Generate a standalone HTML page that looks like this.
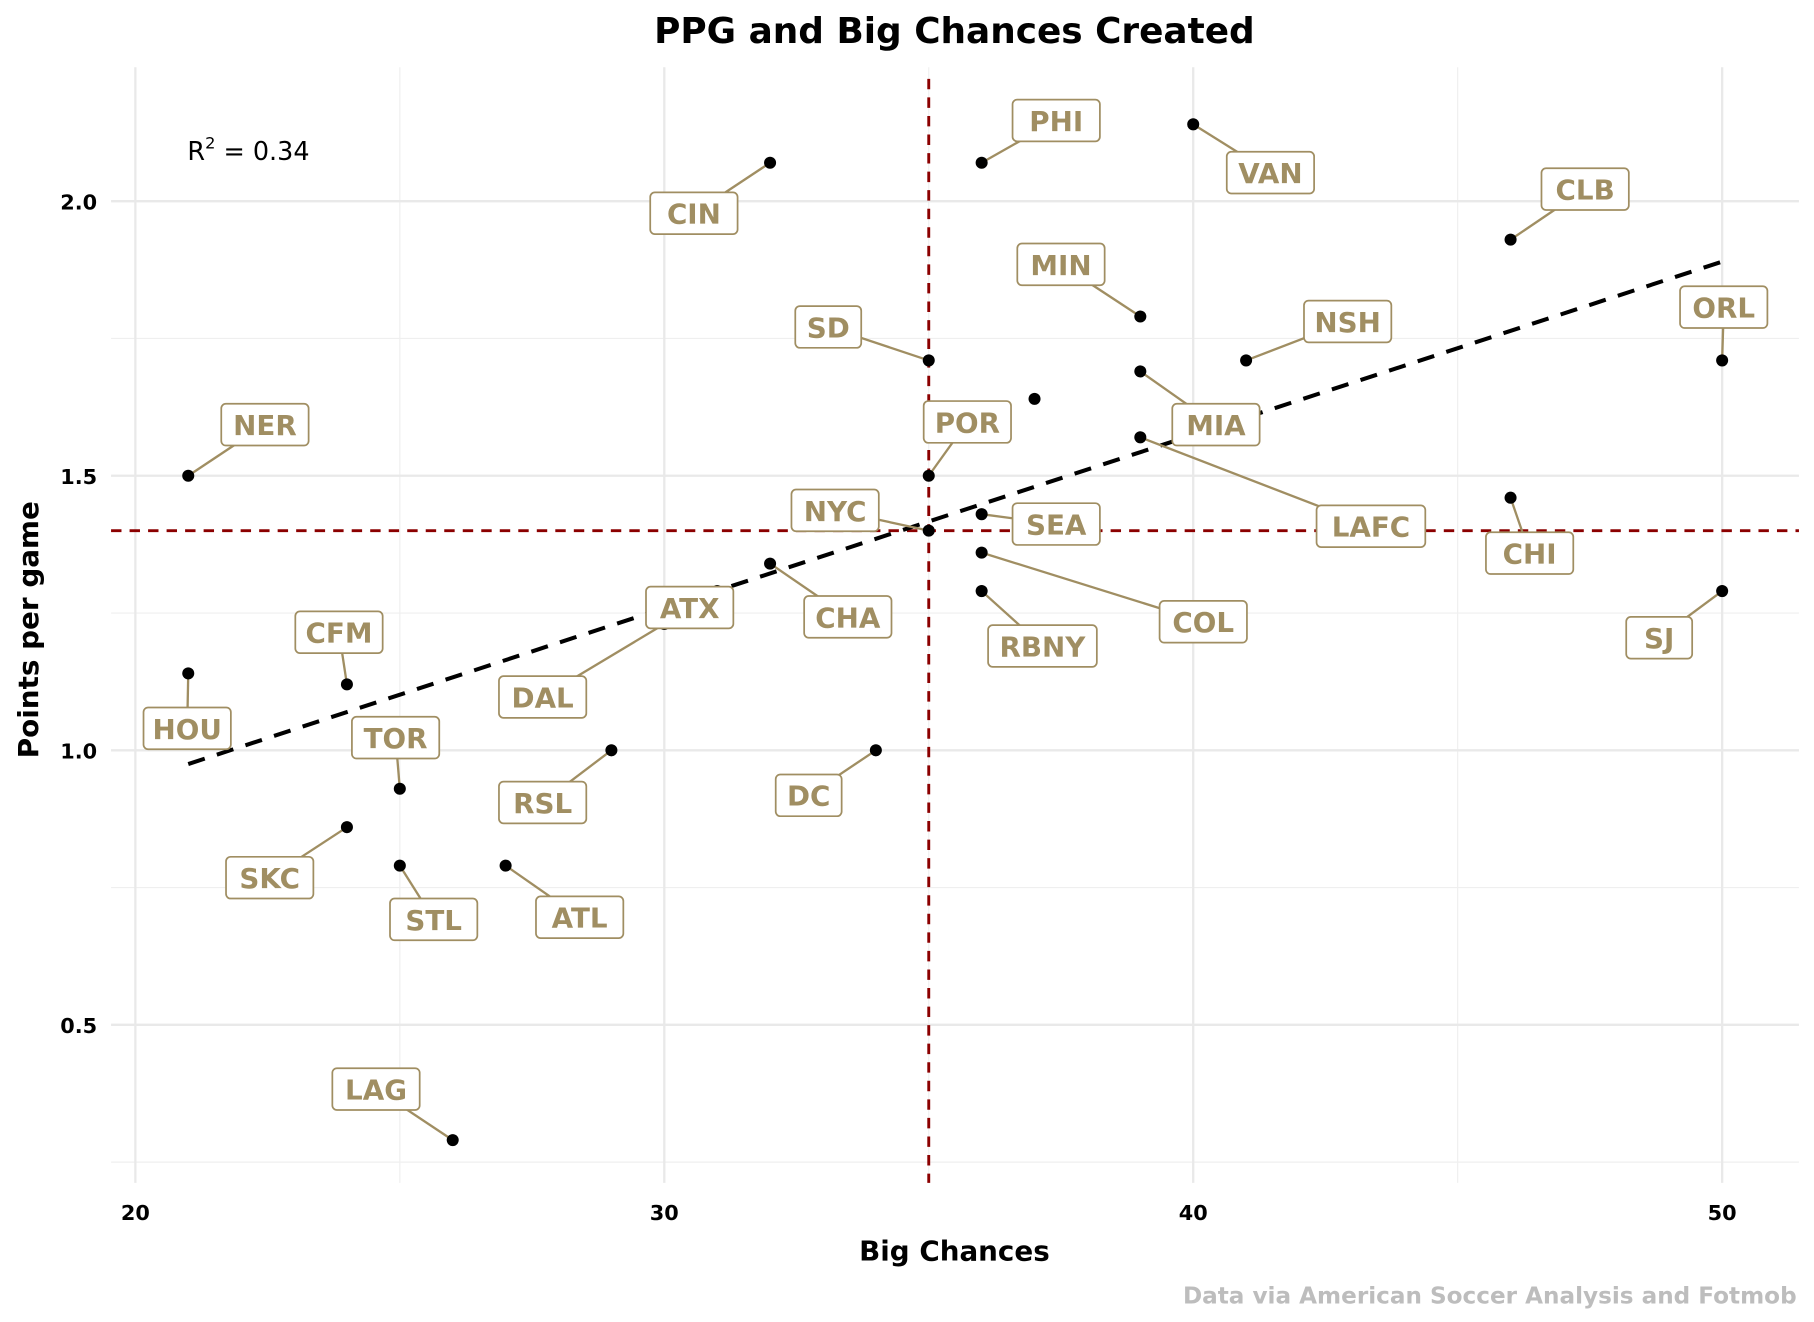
<!DOCTYPE html>
<html><head><meta charset="utf-8"><style>
html,body{margin:0;padding:0;background:#fff;}
svg{display:block;}
</style></head><body>
<svg id="chart" width="1814" height="1322" viewBox="0 0 1568 1140" preserveAspectRatio="none" xmlns="http://www.w3.org/2000/svg">
<g id="grid"></g>
<g id="refs"></g>
<g id="trend"></g>
<g id="segs"></g>
<g id="pts"></g>
<g id="labs"></g>
<g id="axes"></g>
<text x="825" y="37" text-anchor="middle" font-family="DejaVu Sans, Liberation Sans, sans-serif" font-weight="bold" font-size="31">PPG and Big Chances Created</text>
<text x="825" y="1087" text-anchor="middle" font-family="DejaVu Sans, Liberation Sans, sans-serif" font-weight="bold" font-size="24">Big Chances</text>
<text transform="translate(33,543) rotate(-90)" text-anchor="middle" font-family="DejaVu Sans, Liberation Sans, sans-serif" font-weight="bold" font-size="24">Points per game</text>
<text x="1553" y="1124" text-anchor="end" fill="#bdbdbd" font-family="DejaVu Sans, Liberation Sans, sans-serif" font-weight="bold" font-size="20">Data via American Soccer Analysis and Fotmob</text>
<text x="162" y="138" font-family="DejaVu Sans, Liberation Sans, sans-serif" font-size="22">R<tspan font-size="14" dy="-10">2</tspan><tspan dy="10"> = 0.34</tspan></text>
</svg>
<script>
const teams=["NER","HOU","CFM","SKC","TOR","STL","LAG","ATL","RSL","DAL","ATX","CIN","CHA","DC","SD","POR","NYC","PHI","SEA","COL","RBNY","UNK","MIN","MIA","LAFC","VAN","NSH","CLB","CHI","ORL","SJ"];
const bigChances=[21,21,24,24,25,25,26,27,29,30,31,32,32,34,35,35,35,36,36,36,36,37,39,39,39,40,41,46,46,50,50];
const ppg=[1.50,1.14,1.12,0.86,0.93,0.79,0.29,0.79,1.00,1.23,1.29,2.07,1.34,1.00,1.71,1.50,1.40,2.07,1.43,1.36,1.29,1.64,1.79,1.69,1.57,2.14,1.71,1.93,1.46,1.71,1.29];
const labelX=[22.45,20.98,23.85,22.54,24.92,25.64,24.55,28.40,27.70,27.70,30.48,30.56,33.47,32.73,33.10,35.73,33.23,37.41,37.41,40.19,37.15,null,37.50,40.43,43.36,41.46,42.92,47.41,46.36,50.03,48.81];
const labelY=[1.593,1.040,1.215,0.768,1.023,0.692,0.383,0.696,0.905,1.097,1.260,1.978,1.243,0.918,1.771,1.598,1.437,2.147,1.412,1.234,1.190,null,1.885,1.593,1.408,2.052,1.781,2.022,1.359,1.807,1.205];
const xTicks=[20,30,40,50], xMinor=[25,35,45];
const yTicks=[0.5,1.0,1.5,2.0], yMinor=[0.25,0.75,1.25,1.75];
const yTickLabels=["0.5","1.0","1.5","2.0"];
const trendX=[21,50], trendY=[0.975,1.89];
const refX=35, refY=1.40;
const X0=96,X1=1555,Y0=58,Y1=1020;
const sx=v=>117+(v-20)*45.72;
const sy=v=>647-(v-1)*473.5;
const NS="http://www.w3.org/2000/svg";
function mk(p,t,a){const e=document.createElementNS(NS,t);for(const k in a)e.setAttribute(k,a[k]);p.appendChild(e);return e;}
const F="DejaVu Sans, Liberation Sans, sans-serif";
const grid=document.getElementById('grid'),axes=document.getElementById('axes');
xMinor.forEach(v=>{const l=mk(grid,'line',{x1:sx(v),x2:sx(v),y1:Y0,y2:Y1,stroke:'#efefef','stroke-width':1});});
yMinor.forEach(v=>{const l=mk(grid,'line',{x1:X0,x2:X1,y1:sy(v),y2:sy(v),stroke:'#efefef','stroke-width':1});});
xTicks.forEach(v=>{const l=mk(grid,'line',{x1:sx(v),x2:sx(v),y1:Y0,y2:Y1,stroke:'#e9e9e9','stroke-width':2});
const t=mk(axes,'text',{x:sx(v),y:1052,'text-anchor':'middle','font-family':F,'font-weight':'bold','font-size':18});t.textContent=v;});
yTicks.forEach((v,i)=>{const l=mk(grid,'line',{x1:X0,x2:X1,y1:sy(v),y2:sy(v),stroke:'#e9e9e9','stroke-width':2});
const t=mk(axes,'text',{x:84,y:sy(v)+7,'text-anchor':'end','font-family':F,'font-weight':'bold','font-size':18});t.textContent=yTickLabels[i];});
const refs=document.getElementById('refs');
let r=mk(refs,'line',{x1:sx(refX),x2:sx(refX),y1:Y0+10,y2:Y1,stroke:'#8b0000','stroke-width':2.5,'stroke-dasharray':'9 7'});
r=mk(refs,'line',{x1:X0,x2:X1,y1:sy(refY),y2:sy(refY),stroke:'#8b0000','stroke-width':2.5,'stroke-dasharray':'9 7'});
const tr=mk(document.getElementById('trend'),'line',{x1:sx(trendX[0]),y1:sy(trendY[0]),x2:sx(trendX[1]),y2:sy(trendY[1]),stroke:'#000','stroke-width':3.5,'stroke-dasharray':'15 11'});


const segs=document.getElementById('segs'),pts=document.getElementById('pts'),labs=document.getElementById('labs');
teams.forEach((n,i)=>{
 const px=sx(bigChances[i]),py=sy(ppg[i]);
 const c=mk(pts,'circle',{cx:px,cy:py,r:5.2,fill:'#000'});
 
 
 if(labelX[i]==null)return;
 const lx=sx(labelX[i]),ly=sy(labelY[i]);
 const s=mk(segs,'line',{x1:px,y1:py,x2:lx,y2:ly,stroke:'#a08e62','stroke-width':2});
 
 
 const g=mk(labs,'g',{});
 
 
 const w=n.length*18.5+20;
 mk(g,'rect',{x:lx-w/2,y:ly-18,width:w,height:36,rx:4,fill:'#fff',stroke:'#a08e62','stroke-width':1.5});
 const t=mk(g,'text',{x:lx,y:ly+9,'text-anchor':'middle','font-family':F,'font-weight':'bold','font-size':24,fill:'#a08e62'});
 t.textContent=n;
});
</script>
</body></html>
